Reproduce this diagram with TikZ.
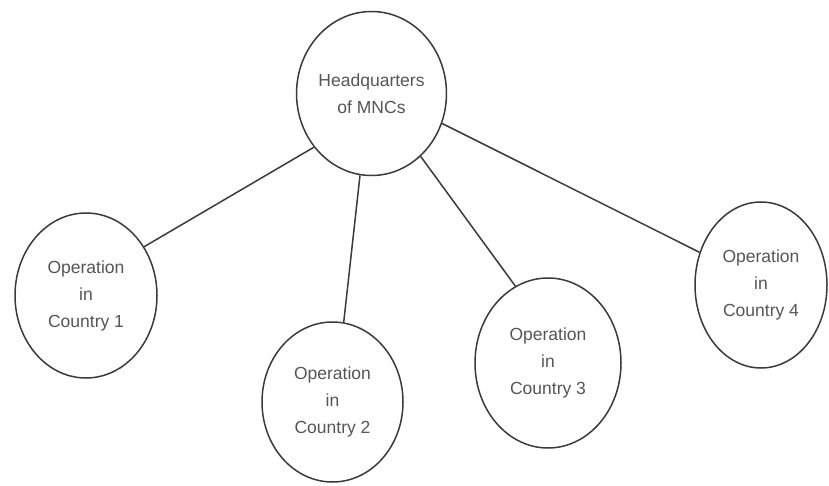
\documentclass[tikz,border=0pt]{standalone}
\usepackage{fontspec}
\setmainfont{Liberation Sans}
\usetikzlibrary{shapes.geometric}
\definecolor{linec}{HTML}{3A3A3A}
\definecolor{textc}{HTML}{555555}
\tikzset{
  bubble/.style={ellipse, draw=linec, line width=1.5pt, inner sep=0pt, align=center,
    text=textc, font=\fontsize{17.5}{27}\selectfont},
  link/.style={draw=linec, line width=1.5pt}
}
\begin{document}
\begin{tikzpicture}[x=1pt,y=-1pt]
\useasboundingbox (0,0) rectangle (829,486);
\node[bubble, minimum width=133pt, minimum height=164pt] (hq) at (371.5,93.5) {Headquarters\\of MNCs};
\node[bubble, minimum width=142pt, minimum height=165pt] (c1) at (86,295.5) {Operation\\in\\Country 1};
\node[bubble, minimum width=141pt, minimum height=160pt] (c2) at (332.5,402) {Operation\\in\\Country 2};
\node[bubble, minimum width=146pt, minimum height=170pt] (c3) at (548,363) {Operation\\in\\Country 3};
\node[bubble, minimum width=132pt, minimum height=166pt] (c4) at (761,285) {Operation\\in\\Country 4};
\draw[link] (hq.223) -- (c1.40);
\draw[link] (hq.262) -- (c2.82);
\draw[link] (hq.308) -- (c3.113);
\draw[link] (hq.337) -- (c4.152);
\end{tikzpicture}
\end{document}
